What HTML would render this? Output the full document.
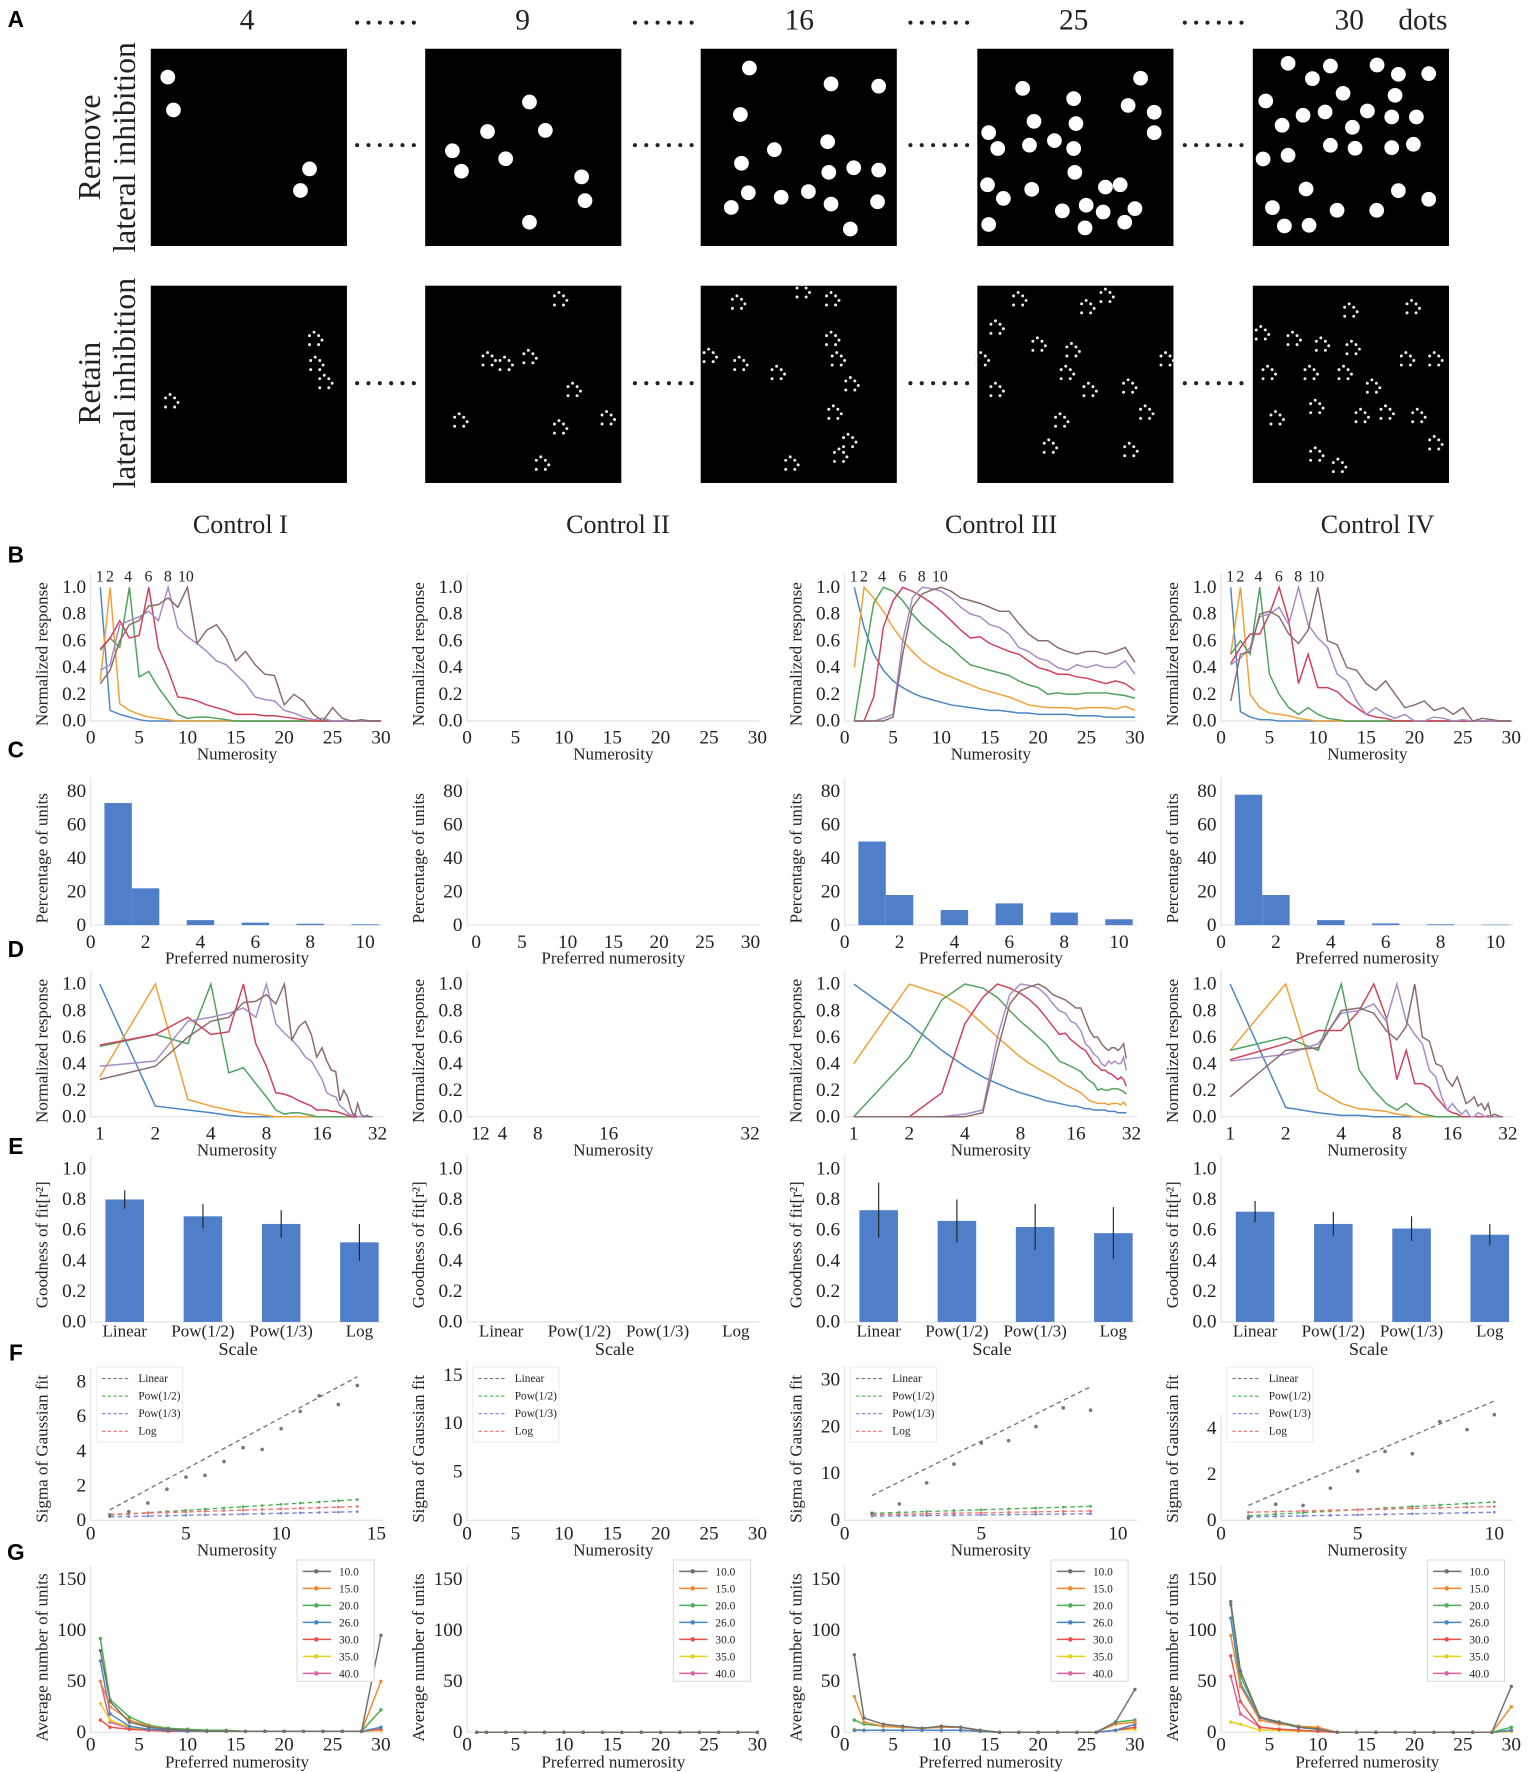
<!DOCTYPE html>
<html><head><meta charset="utf-8"><style>
html,body{margin:0;padding:0;background:#fff;}
svg{display:block;}
text{font-family:"Liberation Serif",serif;fill:#222;}
.lt{font-family:"Liberation Sans",sans-serif;font-weight:bold;fill:#000;}
</style></head><body>
<svg id="fig" xmlns="http://www.w3.org/2000/svg" width="1534" height="1772" viewBox="0 0 1353 1563" preserveAspectRatio="none"></svg>
<script>
// ---------- Data ----------
const colNames = ["Control I","Control II","Control III","Control IV"];
const prefLabels = [1,2,4,6,8,10];
const curveColors = ["#4a86c5","#f0a035","#4fa25e","#d1405a","#a58bc8","#8b6b6b"];
const tuneC1 = [
[1.0,0.08,0.05,0.03,0.01,0,0,0,0,0,0,0,0,0,0,0,0,0,0,0,0,0,0,0,0,0,0,0,0,0],
[0.3,1.0,0.13,0.08,0.05,0.03,0.02,0.01,0,0,0,0,0,0,0,0,0,0,0,0,0,0,0,0,0,0,0,0,0,0],
[0.53,0.62,0.55,1.0,0.33,0.37,0.25,0.15,0.05,0.02,0.03,0.03,0.02,0.01,0,0,0,0,0,0,0,0,0,0,0,0,0,0,0,0],
[0.54,0.62,0.75,0.62,0.64,1.0,0.55,0.38,0.18,0.17,0.15,0.12,0.1,0.08,0.05,0.05,0.05,0.04,0.04,0.03,0.02,0.01,0,0,0,0,0,0,0,0],
[0.38,0.42,0.72,0.75,0.78,0.82,0.75,1.0,0.7,0.63,0.58,0.52,0.45,0.42,0.35,0.28,0.18,0.16,0.15,0.08,0.06,0.03,0.01,0.02,0,0,0,0,0,0],
[0.28,0.38,0.6,0.72,0.75,0.86,0.87,0.92,0.85,1.0,0.58,0.68,0.72,0.62,0.45,0.52,0.42,0.35,0.34,0.12,0.2,0.15,0.05,0.0,0.1,0.02,0,0.01,0,0]];
const tuneC3 = [
[1.0,0.7,0.5,0.38,0.3,0.25,0.21,0.18,0.16,0.14,0.12,0.11,0.1,0.09,0.08,0.08,0.07,0.06,0.06,0.05,0.05,0.05,0.05,0.04,0.04,0.04,0.03,0.03,0.03,0.03],
[0.4,1.0,0.92,0.82,0.7,0.6,0.52,0.45,0.4,0.36,0.33,0.3,0.27,0.24,0.22,0.2,0.18,0.15,0.12,0.11,0.1,0.1,0.1,0.09,0.1,0.1,0.1,0.09,0.11,0.08],
[0,0.45,0.88,1.0,0.97,0.9,0.8,0.72,0.66,0.6,0.55,0.48,0.42,0.4,0.38,0.36,0.34,0.3,0.27,0.25,0.2,0.21,0.2,0.2,0.21,0.21,0.21,0.2,0.19,0.17],
[0,0,0.18,0.7,0.9,1.0,0.97,0.93,0.88,0.82,0.75,0.68,0.62,0.63,0.58,0.55,0.52,0.5,0.45,0.4,0.38,0.35,0.35,0.33,0.32,0.3,0.28,0.3,0.28,0.23],
[0,0,0,0.02,0.05,0.6,0.92,1.0,0.99,0.97,0.92,0.85,0.8,0.78,0.72,0.7,0.65,0.55,0.52,0.47,0.45,0.4,0.38,0.42,0.4,0.42,0.4,0.4,0.45,0.35],
[0,0,0,0,0.03,0.5,0.85,0.95,0.98,1.0,0.97,0.92,0.9,0.88,0.85,0.82,0.82,0.73,0.65,0.6,0.6,0.55,0.52,0.5,0.52,0.52,0.5,0.52,0.55,0.44]];
const tuneC4 = [
[1.0,0.07,0.03,0.01,0.01,0,0,0,0,0,0,0,0,0,0,0,0,0,0,0,0,0,0,0,0,0,0,0,0,0],
[0.5,1.0,0.2,0.1,0.06,0.05,0.04,0.02,0.01,0,0,0,0,0,0,0,0,0,0,0,0,0,0,0,0,0,0,0,0,0],
[0.5,0.6,0.5,1.0,0.35,0.2,0.1,0.05,0.1,0.05,0.02,0.01,0,0,0,0,0,0,0,0,0,0,0,0,0,0,0,0,0,0],
[0.43,0.55,0.65,0.65,0.8,1.0,0.75,0.28,0.5,0.25,0.25,0.22,0.15,0.1,0.05,0.03,0.02,0,0,0,0,0,0,0,0,0,0,0,0,0],
[0.42,0.47,0.55,0.78,0.8,0.85,0.72,1.0,0.72,0.62,0.55,0.35,0.3,0.15,0.05,0.1,0.05,0.02,0.05,0,0,0.03,0.02,0,0.01,0,0,0,0,0],
[0.15,0.5,0.52,0.8,0.82,0.78,0.65,0.58,0.68,1.0,0.6,0.57,0.4,0.38,0.28,0.23,0.3,0.2,0.1,0.12,0.15,0.08,0.1,0.05,0.1,0,0.02,0.01,0,0]];
const histX = [1,2,4,6,8,10];
const histC1 = [73,22,3,1.5,0.8,0.5];
const histC3 = [50,18,9,13,7.5,3.5];
const histC4 = [78,18,3,1,0.5,0.3];
const scaleCats = ["Linear","Pow(1/2)","Pow(1/3)","Log"];
const fitC1 = [0.80,0.69,0.64,0.52], errC1 = [0.06,0.08,0.09,0.12];
const fitC3 = [0.73,0.66,0.62,0.58], errC3 = [0.18,0.14,0.15,0.17];
const fitC4 = [0.72,0.64,0.61,0.57], errC4 = [0.07,0.08,0.08,0.07];
const fLegend = ["Linear","Pow(1/2)","Pow(1/3)","Log"];
const fColors = ["#777777","#4caf50","#7a86d6","#f07070"];
const sigmaC1 = [0.3,0.5,1.0,1.8,2.5,2.6,3.4,4.2,4.1,5.3,6.3,7.2,6.7,7.8];
const fitLinesC1 = [[0.6,8.3],[0.3,1.2],[0.2,0.5],[0.35,0.8]];
const sigmaC3 = [1.5,3.5,8,12,16.5,17,20,24,23.5];
const fitLinesC3 = [[5.3,28.5],[1.5,3.0],[0.9,1.4],[1.2,2.0]];
const sigmaC4 = [0.1,0.7,0.65,1.4,2.15,3.0,2.9,4.3,3.95,4.6];
const fitLinesC4 = [[0.65,5.2],[0.2,0.8],[0.15,0.35],[0.35,0.6]];
const gX = [1,2,4,6,8,10,12,14,16,18,20,22,24,26,28,30];
const gLabels = ["10.0","15.0","20.0","26.0","30.0","35.0","40.0"];
const gColors = ["#707070","#f08a30","#4caf50","#4a86c5","#e8504a","#e8d020","#e0609a"];
const gC1 = [
[80,30,10,5,3,2,1,1,1,1,1,1,1,1,1,95],
[50,25,12,6,3,2,1,1,1,1,1,1,1,1,1,50],
[92,32,15,7,4,3,2,2,1,1,1,1,1,1,1,22],
[70,18,6,3,2,1,1,1,1,1,1,1,1,1,1,5],
[12,5,3,2,1,1,1,1,1,1,1,1,1,1,1,3],
[28,12,5,3,2,1,1,1,1,1,1,1,1,1,1,2],
[50,10,4,2,1,1,1,1,1,1,1,1,1,1,1,2]];
const gC2 = [
[0,0,0,0,0,0,0,0,0,0,0,0,0,0,0,0],[0,0,0,0,0,0,0,0,0,0,0,0,0,0,0,0],[0,0,0,0,0,0,0,0,0,0,0,0,0,0,0,0],
[0,0,0,0,0,0,0,0,0,0,0,0,0,0,0,0],[0,0,0,0,0,0,0,0,0,0,0,0,0,0,0,0],[0,0,0,0,0,0,0,0,0,0,0,0,0,0,0,0],
[0,0,0,0,0,0,0,0,0,0,0,0,0,0,0,0]];
const gC3 = [
[76,14,8,6,4,6,5,2,0,0,0,0,0,0,10,42],
[35,10,6,5,4,5,5,2,0,0,0,0,0,0,8,10],
[12,8,6,5,4,6,5,2,0,0,0,0,0,0,10,12],
[2,2,2,2,2,2,2,1,0,0,0,0,0,0,2,8],
[2,2,2,2,2,2,2,1,0,0,0,0,0,0,2,5],
[3,2,2,2,2,2,2,1,0,0,0,0,0,0,2,3],
[2,2,2,2,2,2,2,1,0,0,0,0,0,0,2,8]];
const gC4 = [
[128,60,15,10,5,3,0,0,0,0,0,0,0,0,0,45],
[95,45,12,8,6,5,0,0,0,0,0,0,0,0,0,25],
[125,55,15,10,6,4,0,0,0,0,0,0,0,0,0,5],
[112,48,14,9,5,3,0,0,0,0,0,0,0,0,0,2],
[75,30,5,3,2,1,0,0,0,0,0,0,0,0,0,2],
[10,8,2,2,1,1,0,0,0,0,0,0,0,0,0,1],
[55,18,5,3,2,1,0,0,0,0,0,0,0,0,0,1]];

// ---------- helpers ----------
const NS="http://www.w3.org/2000/svg";
const svg=document.getElementById('fig');
function mk(tag,attrs,parent){const e=document.createElementNS(NS,tag);for(const k in attrs)e.setAttribute(k,attrs[k]);(parent||svg).appendChild(e);return e;}
function txt(s,x,y,size,anchor,parent,extra){const t=mk('text',Object.assign({x:x,y:y,'font-size':size,'text-anchor':anchor||'middle'},extra||{}),parent);t.textContent=s;return t;}
function grp(name){const g=mk('g',{});return g;}
const X0=[80,412,745,1077];
const AX="#e2e2e2";

// ---------- Panel A ----------
const pa=grp('panel-a');
let l=txt('A',14,24,20,'middle',pa,{class:'lt'});

const nums=[["4",218],["9",461],["16",705],["25",947],["30",1190]];
nums.forEach(n=>{const t=txt(n[0],n[1],26,26,'middle',pa);});
l=txt('dots',1255,26,26,'middle',pa);
function dotsRow(cx,cy){for(let i=0;i<6;i++)mk('circle',{cx:cx-25+i*10,cy:cy,r:1.8,fill:'#222'},pa);}
[340,585,828,1070].forEach(c=>{dotsRow(c,20);dotsRow(c,128);dotsRow(c,338);});
const boxes=[133,375,618,862,1105];
boxes.forEach(bx=>{const r=mk('rect',{x:bx,y:43,width:173,height:174,fill:'#000'},pa);
 const r2=mk('rect',{x:bx,y:252,width:173,height:174,fill:'#000'},pa);});
const topDots=[
[[148,68],[153,97],[273,149],[265,168]],
[[467,90],[481,115],[430,116],[446,140],[399,133],[407,151],[513,156],[516,177],[467,196]],
[[661,60],[733,74],[775,76],[653,101],[683,132],[730,125],[654,144],[775,150],[731,152],[753,148],[660,170],[689,174],[713,169],[733,180],[645,183],[774,178],[750,202]],
[[902,78],[947,87],[1006,69],[995,93],[1018,99],[912,107],[949,109],[872,117],[1018,117],[908,128],[930,124],[947,131],[880,131],[948,152],[871,163],[910,167],[885,175],[937,186],[958,181],[975,165],[988,163],[1001,184],[872,198],[957,201],[992,196],[973,187]]];
const z5=[[145,70],[272,78],[412,75],[218,116],[476,103],[567,101],[310,160],[466,166],[78,183],[190,226],[256,216],[383,213],[456,231],[530,231],[127,256],[338,262],[272,316],[346,325],[456,323],[521,313],[70,357],[145,346],[199,447],[476,452],[567,478],[98,503],[292,511],[411,511],[134,558],[208,556]];
topDots.push(z5.map(p=>[(p[0]/3+1240)/1.134,(p[1]/3+40)/1.134]));
topDots.forEach(arr=>arr.forEach(p=>mk('circle',{cx:p[0],cy:p[1],r:6.5,fill:'#fff'},pa)));
const botPat=[
[[150,355],[277,300],[278,322],[286,338]],
[[493,265],[430,318],[445,322],[466,316],[505,345],[405,372],[535,370],[493,378],[477,410]],
[[650,268],[707,258],[733,265],[625,315],[652,322],[685,330],[733,300],[738,318],[750,340],[735,365],[748,390],[697,410],[740,403]],
[[898,265],[975,262],[958,272],[878,290],[865,318],[915,305],[945,310],[1028,318],[878,345],[940,330],[935,372],[960,345],[995,342],[1010,365],[925,395],[996,398]],
[[1190,275],[1245,272],[1112,295],[1140,300],[1165,305],[1192,308],[1240,318],[1265,318],[1118,330],[1155,330],[1185,330],[1210,342],[1125,370],[1160,360],[1200,368],[1250,368],[1222,365],[1160,402],[1265,392],[1180,412]]];
botPat.forEach(arr=>arr.forEach(p=>{[[-4,-4],[4,-4],[-4,4],[4,4],[0,-7],[7,0]].forEach(o=>mk('circle',{cx:p[0]+o[0],cy:p[1]+o[1],r:1.3,fill:'#eee'},pa));}));
let rl=txt('Remove',0,0,28,'middle',pa,{transform:'translate(88,130) rotate(-90)'});
rl=txt('lateral inhibition',0,0,28,'middle',pa,{transform:'translate(119,130) rotate(-90)'});
rl=txt('Retain',0,0,28,'middle',pa,{transform:'translate(88,338) rotate(-90)'});
rl=txt('lateral inhibition',0,0,28,'middle',pa,{transform:'translate(119,338) rotate(-90)'});
const ctlX=[212,545,883,1215];
colNames.forEach((n,i)=>{const t=txt(n,ctlX[i],470,23,'middle');});
[['B',490],['C',662],['D',838],['E',1012],['F',1194],['G',1370]].forEach(p=>{const t=txt(p[0],14,p[1]+6,20,'middle',svg,{class:'lt'});});

// ---------- generic axis drawing ----------
function yAxis(g,x0,ySc,ticks,labels,title,titleY,fs){
 mk('line',{x1:x0,y1:ySc(ticks[0])+1,x2:x0,y2:ySc(ticks[ticks.length-1])-12,stroke:AX,'stroke-width':1},g);
 ticks.forEach((v,i)=>{const t=txt(labels[i],x0-4,ySc(v)+5,fs||17,'end',g);});
 const t=txt(title,0,0,15,'middle',g,{transform:`translate(${x0-38},${titleY}) rotate(-90)`});
}
function xAxis(g,x0,x1,y0,xSc,ticks,labels,title,fs,off){
 const o=off||[20,34];
 mk('line',{x1:x0,y1:y0,x2:x1,y2:y0,stroke:AX,'stroke-width':1},g);
 ticks.forEach((v,i)=>{const t=txt(labels[i],xSc(v),y0+o[0],fs||17,'middle',g);});
 const t=txt(title,(x0+x1)/2,y0+o[1],15,'middle',g);
}
function poly(g,pts,color,w,dash){const p=mk('polyline',{points:pts.map(p=>p[0].toFixed(1)+','+p[1].toFixed(1)).join(' '),fill:'none',stroke:color,'stroke-width':w||1.3,'stroke-dasharray':dash||'none'},g);return p;}

// ---------- B ----------
const tunes=[tuneC1,null,tuneC3,tuneC4];
const yTicks1=[0,0.2,0.4,0.6,0.8,1.0], yLab1=["0.0","0.2","0.4","0.6","0.8","1.0"];
const xLin=[0,5,10,15,20,25,30];
const nOff=[8,17,33,51,68,84];
X0.forEach((x0,c)=>{
 const g=grp('panel-b-'+colNames[c].toLowerCase().replace(' ','-'));
 const xs=v=>x0+v*256/30, ys=v=>636-118*v;
 yAxis(g,x0,ys,yTicks1,yLab1,'Normalized response',577);
 xAxis(g,x0,x0+258,636,xs,xLin,xLin.map(String),'Numerosity');
 if(!tunes[c])return;
 tunes[c].forEach((arr,k)=>{const p=poly(g,arr.map((v,i)=>[xs(i+1),ys(v)]),curveColors[k]);});
 prefLabels.forEach((n,k)=>{const t=txt(String(n),x0+nOff[k],513,14,'middle',g,{fill:curveColors[k]});});
});

// ---------- C ----------
const hists=[histC1,null,histC3,histC4];
X0.forEach((x0,c)=>{
 const g=grp('panel-c-col'+(c+1));
 const ys=v=>816-1.475*v;
 yAxis(g,x0,ys,[0,20,40,60,80],["0","20","40","60","80"],'Percentage of units',757);
 if(c===1){const xs=v=>x0+8+v*242/30;xAxis(g,x0,x0+258,816,xs,xLin,xLin.map(String),'Preferred numerosity');return;}
 const xs=v=>x0+v*24.2;
 xAxis(g,x0,x0+258,816,xs,[0,2,4,6,8,10],["0","2","4","6","8","10"],'Preferred numerosity');
 hists[c].forEach((v,i)=>{const r=mk('rect',{x:xs(histX[i]-0.5),y:ys(v),width:24.2,height:816-ys(v),fill:'#4f7fc8'},g);});
});

// ---------- D ----------
X0.forEach((x0,c)=>{
 const g=grp('panel-d-col'+(c+1));
 const ys=v=>985-117*v;
 yAxis(g,x0,ys,yTicks1,yLab1,'Normalized response',927);
 const dt=[1,2,4,8,16,32];
 if(c===1){const xs=v=>x0+v*7.8;xAxis(g,x0,x0+258,985,xs,dt,["1","2","4","8","16","32"],'Numerosity');return;}
 const xs=v=>x0+8+Math.log2(v)/5*245;
 xAxis(g,x0,x0+258,985,xs,dt,dt.map(String),'Numerosity');
 tunes[c].forEach((arr,k)=>{const p=poly(g,arr.map((v,i)=>[xs(i+1),ys(v)]),curveColors[k]);});
});

// ---------- E ----------
const fits=[fitC1,null,fitC3,fitC4], errs=[errC1,null,errC3,errC4];
X0.forEach((x0,c)=>{
 const g=grp('panel-e-col'+(c+1));
 const ys=v=>1166-135*v, xs=i=>x0+30+i*69;
 yAxis(g,x0,ys,yTicks1,yLab1,'Goodness of fit[r²]',1098);
 mk('line',{x1:x0,y1:1166,x2:x0+258,y2:1166,stroke:AX},g);
 scaleCats.forEach((s,i)=>{const t=txt(s,xs(i),1179,15,'middle',g);});
 const t=txt('Scale',x0+130,1195,16,'middle',g);
 if(!fits[c])return;
 fits[c].forEach((v,i)=>{const r=mk('rect',{x:xs(i)-17,y:ys(v),width:34,height:1166-ys(v),fill:'#4f7fc8'},g);
  const e=mk('line',{x1:xs(i),x2:xs(i),y1:ys(v-errs[c][i]),y2:ys(v+errs[c][i]),stroke:'#222','stroke-width':1},g);});
});

// ---------- F ----------
const fCfg=[
 {xmax:15,xt:[0,5,10,15],ymax:8,yt:[0,2,4,6,8],pts:sigmaC1,lines:fitLinesC1},
 {xmax:30,xt:[0,5,10,15,20,25,30],ymax:15,yt:[0,5,10,15],pts:null,lines:null},
 {xmax:10,xt:[0,5,10],ymax:30,yt:[0,10,20,30],pts:sigmaC3,lines:fitLinesC3},
 {xmax:10,xt:[0,5,10],ymax:4,yt:[0,2,4],pts:sigmaC4,lines:fitLinesC4}];
const fYpx=[122,128,124,81];
X0.forEach((x0,c)=>{
 const g=grp('panel-f-col'+(c+1)), cf=fCfg[c];
 const xw=c===0?252:(c===1?256:241);
 const xs=v=>x0+v*xw/cf.xmax, ys=v=>1341-v*fYpx[c]/cf.ymax;
 yAxis(g,x0,ys,cf.yt,cf.yt.map(String),'Sigma of Gaussian fit',1278,17);
 xAxis(g,x0,x0+258,1341,xs,cf.xt,cf.xt.map(String),'Numerosity',17,[17,31]);
 const lg=mk('g',{},g);
 mk('rect',{x:x0+5,y:1206,width:76,height:66,fill:'#fff',stroke:'#eee'},lg);
 fLegend.forEach((s,i)=>{mk('line',{x1:x0+10,x2:x0+34,y1:1216+15.5*i,y2:1216+15.5*i,stroke:fColors[i],'stroke-dasharray':'3,2'},lg);const t=txt(s,x0+42,1219+15.5*i,10,'start',lg,{fill:'#444'});});
 if(!cf.pts)return;
 const n=cf.pts.length;
 cf.lines.forEach((ln,k)=>{const p=poly(g,[[xs(1),ys(ln[0])],[xs(n),ys(ln[1])]],fColors[k],1.2,'4,3');
  if(k>0)for(let i=1;i<=n;i++){mk('circle',{cx:xs(i),cy:ys(ln[0]+(ln[1]-ln[0])*(i-1)/(n-1)),r:1.2,fill:fColors[k]},g);}
 });
 cf.pts.forEach((v,i)=>{const d=mk('circle',{cx:xs(i+1),cy:ys(v),r:1.6,fill:'#777'},g);});
});

// ---------- G ----------
const gData=[gC1,gC2,gC3,gC4];
X0.forEach((x0,c)=>{
 const g=grp('panel-g-col'+(c+1));
 const xs=v=>x0+v*256/30, ys=v=>1528-0.9*v;
 yAxis(g,x0,ys,[0,50,100,150],["0","50","100","150"],'Average number of units',1462,17);
 xAxis(g,x0,x0+258,1528,xs,xLin,xLin.map(String),'Preferred numerosity',17,[16,31]);
 gData[c].slice().reverse().forEach((arr,kr)=>{const k=gData[c].length-1-kr;
  const p=poly(g,arr.map((v,i)=>[xs(gX[i]),ys(v)]),gColors[k],1.3);
  arr.forEach((v,i)=>mk('circle',{cx:xs(gX[i]),cy:ys(v),r:1.5,fill:gColors[k]},g));});
 const lg=mk('g',{},g);
 const lx=x0+182;
 mk('rect',{x:lx,y:1376,width:68,height:107,fill:'#fff',stroke:'#ddd'},lg);
 gLabels.forEach((s,i)=>{const yy=1386+15*i;mk('line',{x1:lx+5,x2:lx+30,y1:yy,y2:yy,stroke:gColors[i],'stroke-width':1.3},lg);mk('circle',{cx:lx+17,cy:yy,r:2,fill:gColors[i]},lg);
  const t=txt(s,lx+37,yy+3.5,10,'start',lg,{fill:'#333'});});
});
</script>
</body></html>
